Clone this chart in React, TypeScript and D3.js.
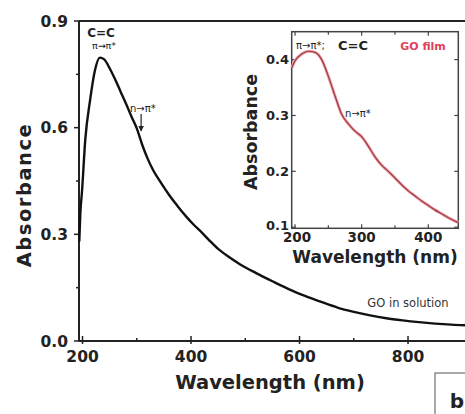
import React from 'react';
import * as d3 from 'd3';

// GO in solution (main panel)
const solWl = [194, 196, 199, 205, 214, 223, 232, 240, 250, 260, 270, 280, 290, 300, 310, 320, 330, 345, 360, 375, 390, 405, 420, 435, 450, 470, 490, 520, 550, 580, 610, 640, 670, 700, 730, 760, 790, 820, 850, 880, 910];
const solAbs = [0.28, 0.36, 0.42, 0.565, 0.678, 0.762, 0.797, 0.792, 0.767, 0.736, 0.702, 0.668, 0.632, 0.598, 0.552, 0.513, 0.481, 0.444, 0.41, 0.38, 0.352, 0.327, 0.305, 0.281, 0.259, 0.236, 0.216, 0.191, 0.168, 0.146, 0.127, 0.11, 0.094, 0.082, 0.072, 0.064, 0.058, 0.053, 0.049, 0.046, 0.044];

// GO film (inset)
const filmWl = [195, 200, 210, 220, 230, 240, 250, 260, 270, 280, 290, 300, 310, 320, 330, 340, 350, 360, 370, 380, 390, 400, 410, 420, 430, 440, 445];
const filmAbs = [0.385, 0.398, 0.41, 0.415, 0.413, 0.4, 0.37, 0.335, 0.302, 0.285, 0.272, 0.262, 0.245, 0.226, 0.211, 0.2, 0.188, 0.176, 0.165, 0.156, 0.147, 0.139, 0.131, 0.124, 0.117, 0.111, 0.108];

const mainXTicks = [200, 400, 600, 800];
const mainXMinor = [300, 500, 700];
const mainYTicks = [0.0, 0.3, 0.6, 0.9];
const mainYMinor = [0.15, 0.45, 0.75];
const insetXTicks = [200, 300, 400];
const insetXMinor = [250, 350];
const insetYTicks = [0.1, 0.2, 0.3, 0.4];

const FONT = 'DejaVu Sans, Verdana, sans-serif';

export default function App() {
  const W = 465;
  const H = 414;

  const x = d3.scaleLinear().domain([193.5, 910]).range([79, 467.7]);
  const y = d3.scaleLinear().domain([0, 0.9]).range([341, 21]);

  const ix = d3.scaleLinear().domain([195, 445]).range([291.7, 458.3]);
  const iy = d3.scaleLinear().domain([0.098, 0.45]).range([228.3, 31.7]);

  const solLine = d3.line<number>()
    .x((d, i) => x(solWl[i]))
    .y(d => y(d))
    .curve(d3.curveMonotoneX);

  const filmLine = d3.line<number>()
    .x((d, i) => ix(filmWl[i]))
    .y(d => iy(d))
    .curve(d3.curveMonotoneX);

  const [x0, x1] = x.range();
  const [y0, y1] = y.range();
  const [ix0, ix1] = ix.range();
  const [iy0, iy1] = iy.range();

  const arrowX = x(308);

  return (
    <svg width={W} height={H} style={{ position: 'absolute', left: 0, top: 0, background: '#fff' }} fontFamily={FONT}>
      <defs>
        <marker id="ah" viewBox="0 0 10 10" refX="9" refY="5" markerWidth="5" markerHeight="5" orient="auto">
          <path d="M0,0 L10,5 L0,10 z" fill="#222" />
        </marker>
      </defs>

      {/* main frame */}
      <line x1={x0} x2={x1} y1={y1} y2={y1} stroke="#222" strokeWidth={2} />
      <line x1={x0} x2={x0} y1={y0} y2={y1} stroke="#222" strokeWidth={2} />
      <line x1={x0} x2={x1} y1={y0} y2={y0} stroke="#222" strokeWidth={2} />

      {mainYTicks.map(t => (
        <g key={'my' + t}>
          <line x1={x0 - 5} x2={x0} y1={y(t)} y2={y(t)} stroke="#222" strokeWidth={1.5} />
          <text x={68} y={y(t)} dy="0.36em" textAnchor="end" fontSize={15.5} fontWeight="bold" fill="#222">{t.toFixed(1)}</text>
        </g>
      ))}
      {mainYMinor.map(t => (
        <line key={'mym' + t} x1={x0 - 3} x2={x0} y1={y(t)} y2={y(t)} stroke="#222" strokeWidth={1.5} />
      ))}
      {mainXTicks.map(t => (
        <g key={'mx' + t}>
          <line x1={x(t)} x2={x(t)} y1={y0 - 5} y2={y0 + 3} stroke="#222" strokeWidth={1.5} />
          <text x={x(t)} y={362} textAnchor="middle" fontSize={15.5} fontWeight="bold" fill="#222">{t}</text>
        </g>
      ))}
      {mainXMinor.map(t => (
        <line key={'mxm' + t} x1={x(t)} x2={x(t)} y1={y0 - 3} y2={y0} stroke="#222" strokeWidth={1.5} />
      ))}

      <text x={270} y={389} textAnchor="middle" fontSize={19.5} fontWeight="bold" fill="#222">Wavelength (nm)</text>
      <text transform="translate(31,195) rotate(-90)" textAnchor="middle" fontSize={19.5} fontWeight="bold" fill="#222" letterSpacing={1.5}>Absorbance</text>

      <path d={solLine(solAbs) || ''} fill="none" stroke="#111" strokeWidth={2.4} />

      {/* main annotations */}
      <text x={101} y={37} textAnchor="middle" fontSize={12} fontWeight="bold" fill="#222">C=C</text>
      <text x={104} y={49} textAnchor="middle" fontSize={9.5} fill="#222">π→π*</text>
      <text x={130} y={112} fontSize={10} fill="#222">n→π*</text>
      <line x1={arrowX} x2={arrowX} y1={114} y2={131} stroke="#222" strokeWidth={1.2} markerEnd="url(#ah)" />
      <text x={408} y={307} textAnchor="middle" fontSize={11.5} fill="#333">GO in solution</text>

      {/* inset */}
      <rect x={ix0} y={iy1} width={ix1 - ix0} height={iy0 - iy1} fill="#fff" stroke="#444" strokeWidth={1.5} />
      {insetYTicks.map(t => (
        <g key={'iy' + t}>
          <line x1={ix0} x2={ix0 + 4} y1={iy(t)} y2={iy(t)} stroke="#444" strokeWidth={1.2} />
          <line x1={ix1 - 4} x2={ix1} y1={iy(t)} y2={iy(t)} stroke="#444" strokeWidth={1.2} />
          <text x={289} y={iy(t) - (t === 0.1 ? 2 : 0)} dy="0.36em" textAnchor="end" fontSize={13} fontWeight="bold" fill="#222">{t.toFixed(1)}</text>
        </g>
      ))}
      {insetXTicks.map(t => (
        <g key={'ix' + t}>
          <line x1={ix(t)} x2={ix(t)} y1={iy0 - 4} y2={iy0} stroke="#444" strokeWidth={1.2} />
          <line x1={ix(t)} x2={ix(t)} y1={iy1} y2={iy1 + 4} stroke="#444" strokeWidth={1.2} />
          <text x={ix(t) + (t === 200 ? 2 : 0)} y={242} textAnchor="middle" fontSize={13.5} fontWeight="bold" fill="#222">{t}</text>
        </g>
      ))}
      {insetXMinor.map(t => (
        <g key={'ixm' + t}>
          <line x1={ix(t)} x2={ix(t)} y1={iy0 - 3} y2={iy0} stroke="#444" strokeWidth={1.2} />
          <line x1={ix(t)} x2={ix(t)} y1={iy1} y2={iy1 + 3} stroke="#444" strokeWidth={1.2} />
        </g>
      ))}
      <text x={375} y={263} textAnchor="middle" fontSize={17} fontWeight="bold" fill="#222">Wavelength (nm)</text>
      <text transform="translate(257,132) rotate(-90)" textAnchor="middle" fontSize={17.5} fontWeight="bold" fill="#222">Absorbance</text>

      <path d={filmLine(filmAbs) || ''} fill="none" stroke="#f2a0a8" strokeWidth={3} />
      <path d={filmLine(filmAbs) || ''} fill="none" stroke="#9a3a44" strokeWidth={1.2} />

      <text x={296} y={49} fontSize={10} fill="#222">π→π*;</text>
      <text x={338} y={50} fontSize={13} fontWeight="bold" fill="#222">C=C</text>
      <text x={423} y={50} textAnchor="middle" fontSize={11} fontWeight="bold" fill="#e0405a">GO film</text>
      <text x={345} y={117} fontSize={10} fill="#222">n→π*</text>

      {/* panel label */}
      <rect x={435} y={373} width={40} height={50} fill="#fff" stroke="#555" strokeWidth={1} />
      <text x={457} y={408} textAnchor="middle" fontSize={20} fontWeight="bold" fill="#222">b</text>
    </svg>
  );
}
